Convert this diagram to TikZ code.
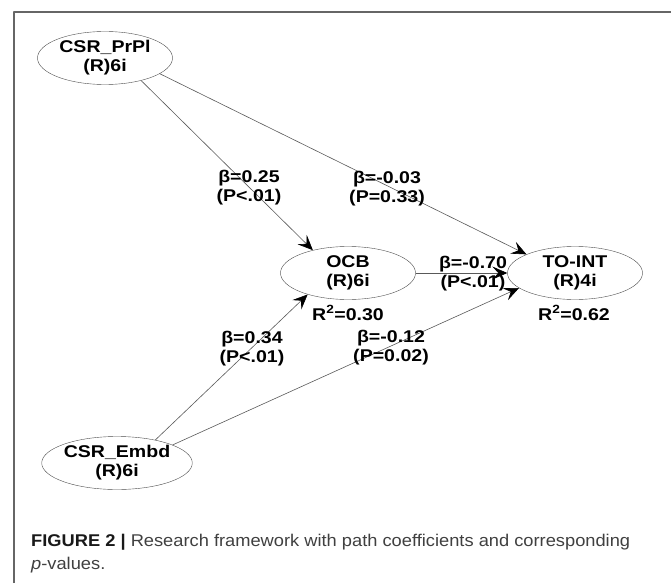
\documentclass[tikz,border=0pt]{standalone}
\usepackage{fontspec}
\setmainfont{Liberation Sans}
\newfontfamily\pathfont[FakeStretch=1.15]{Liberation Sans}
\newfontfamily\capfont[FakeStretch=1.075]{Liberation Sans}
\usetikzlibrary{arrows.meta,shapes.geometric}
\tikzset{
	path diagram/.style={x=1pt, y=-1pt, line join=round},
	latent/.style={draw=black!70, ellipse, minimum width=135pt, minimum height=53pt,
		inner sep=0pt, align=center, font=\pathfont\bfseries\fontsize{17}{19}\selectfont},
	coef/.style={align=center, inner sep=0pt, font=\pathfont\bfseries\fontsize{17}{19}\selectfont},
	ar/.style={draw=black!65, line width=0.6pt, -{Stealth[length=15pt,width=13pt,inset=6pt,black]}},
	caption/.style={anchor=base west, inner sep=0pt, text=black!75, font=\capfont\fontsize{17}{21}\selectfont}
}

\begin{document}
\begin{tikzpicture}[path diagram]
	\useasboundingbox (0,0) rectangle (671,583);
	% frame
	\draw[black!60, line width=1.2pt] (14,583) -- (14,12) -- (671,12);
	% constructs
	\node[latent] (prpl)  at (105,58)  {CSR\_PrPl\\(R)6i};
	\node[latent] (ocb)   at (348,273) {OCB\\(R)6i};
	\node[latent] (toint) at (575,273) {TO-INT\\(R)4i};
	\node[latent] (embd)  at (117,463) {CSR\_Embd\\(R)6i};
	% paths
	\draw[ar] (prpl.-32)  -- (ocb.147);
	\draw[ar] (prpl.-16)  -- (toint.159);
	\draw[ar] (ocb.east)  -- (toint.west);
	\draw[ar] (embd.31)   -- (ocb.-152);
	\draw[ar] (embd.18)   -- (toint.-165);
	% coefficients
	\node[coef] (b_prpl_ocb)   at (249,188) {β=0.25\\(P<.01)};
	\node[coef] (b_prpl_toint) at (387,189) {β=-0.03\\(P=0.33)};
	\node[coef] (b_ocb_toint)  at (473,274) {β=-0.70\\(P<.01)};
	\node[coef] (b_embd_ocb)   at (252,349) {β=0.34\\(P<.01)};
	\node[coef] (b_embd_toint) at (391,348) {β=-0.12\\(P=0.02)};
	\node[coef] (r2_ocb)   at (348,313) {R\textsuperscript{2}=0.30};
	\node[coef] (r2_toint) at (574,313) {R\textsuperscript{2}=0.62};
	% caption
	\node[caption] (cap1) at (31,546.5) {\textcolor{black!90}{\textbf{FIGURE 2 |}} Research framework with path coefficients and corresponding};
	\node[caption] (cap2) at (31,569.5) {\textit{p}-values.};
\end{tikzpicture}
\end{document}
